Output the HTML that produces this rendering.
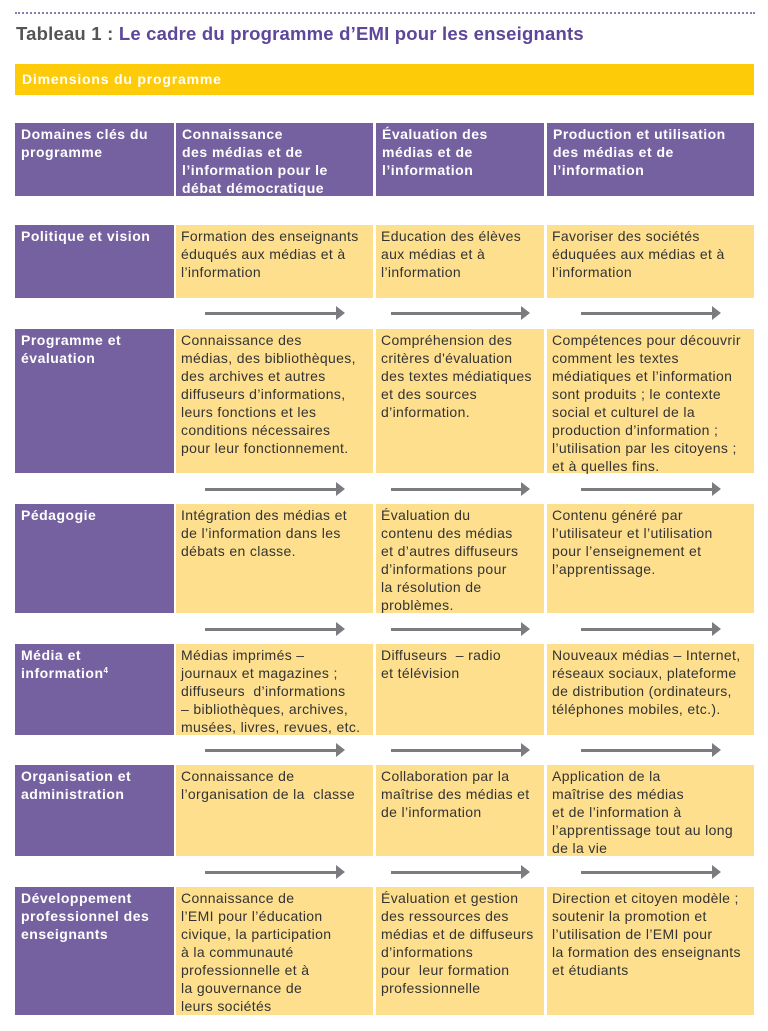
<!DOCTYPE html>
<html><head><meta charset="utf-8"><style>
body{margin:0;width:768px;height:1031px;background:#fff;position:relative;font-family:"Liberation Sans",sans-serif;overflow:hidden}
.c{position:absolute;box-sizing:border-box;padding:2px 4px 0 6px;font-size:14px;letter-spacing:0.35px;line-height:18px;color:#333;white-space:nowrap}
.p{background:#7661a0;color:#fff;font-weight:bold;letter-spacing:0.5px}
.y{background:#fddf8e;padding-left:5px}
.a{position:absolute;height:3px;background:#7b7b80}
.a:after{content:"";position:absolute;right:-8px;top:-6px;border-left:9px solid #7b7b80;border-top:7.5px solid transparent;border-bottom:7.5px solid transparent}
sup{font-size:8px;line-height:0;vertical-align:5px}
</style></head><body>
<div style="position:absolute;left:15px;right:13px;top:12px;border-top:2px dotted #8a7bb0"></div>
<div style="position:absolute;left:16px;top:23px;font-size:18.5px;letter-spacing:0.2px;font-weight:bold;color:#555">Tableau 1 : <span style="color:#5e469a">Le cadre du programme d’EMI pour les enseignants</span></div>
<div style="position:absolute;left:15px;top:64px;width:739px;height:31px;background:#fecb08;color:#fff;font-weight:bold;font-size:14px;letter-spacing:0.8px;line-height:31px;padding-left:7px;box-sizing:border-box">Dimensions du programme</div>

<div class="c p" style="left:15px;top:123px;width:159px;height:73px">Domaines clés du<br>programme</div>
<div class="c p" style="left:176px;top:123px;width:197px;height:73px">Connaissance<br>des médias et de<br>l’information pour le<br>débat démocratique</div>
<div class="c p" style="left:376px;top:123px;width:168px;height:73px">Évaluation des<br>médias et de<br>l’information</div>
<div class="c p" style="left:547px;top:123px;width:207px;height:73px">Production et utilisation<br>des médias et de<br>l’information</div>

<div class="c p" style="left:15px;top:225px;width:159px;height:73px">Politique et vision</div>
<div class="c y" style="left:176px;top:225px;width:197px;height:73px">Formation des enseignants<br>éduqués aux médias et à<br>l’information</div>
<div class="c y" style="left:376px;top:225px;width:168px;height:73px">Education des élèves<br>aux médias et à<br>l’information</div>
<div class="c y" style="left:547px;top:225px;width:207px;height:73px">Favoriser des sociétés<br>éduquées aux médias et à<br>l’information</div>

<div class="c p" style="left:15px;top:329px;width:159px;height:144px">Programme et<br>évaluation</div>
<div class="c y" style="left:176px;top:329px;width:197px;height:144px">Connaissance des<br>médias, des bibliothèques,<br>des archives et autres<br>diffuseurs d’informations,<br>leurs fonctions et les<br>conditions nécessaires<br>pour leur fonctionnement.</div>
<div class="c y" style="left:376px;top:329px;width:168px;height:144px">Compréhension des<br>critères d'évaluation<br>des textes médiatiques<br>et des sources<br>d’information.</div>
<div class="c y" style="left:547px;top:329px;width:207px;height:144px">Compétences pour découvrir<br>comment les textes<br>médiatiques et l’information<br>sont produits ; le contexte<br>social et culturel de la<br>production d’information ;<br>l’utilisation par les citoyens ;<br>et à quelles fins.</div>

<div class="c p" style="left:15px;top:504px;width:159px;height:109px">Pédagogie</div>
<div class="c y" style="left:176px;top:504px;width:197px;height:109px">Intégration des médias et<br>de l’information dans les<br>débats en classe.</div>
<div class="c y" style="left:376px;top:504px;width:168px;height:109px">Évaluation du<br>contenu des médias<br>et d’autres diffuseurs<br>d’informations pour<br>la résolution de<br>problèmes.</div>
<div class="c y" style="left:547px;top:504px;width:207px;height:109px">Contenu généré par<br>l’utilisateur et l’utilisation<br>pour l’enseignement et<br>l’apprentissage.</div>

<div class="c p" style="left:15px;top:644px;width:159px;height:91px">Média et<br>information<sup>4</sup></div>
<div class="c y" style="left:176px;top:644px;width:197px;height:91px">Médias imprimés –<br>journaux et magazines ;<br>diffuseurs &nbsp;d’informations<br>– bibliothèques, archives,<br>musées, livres, revues, etc.</div>
<div class="c y" style="left:376px;top:644px;width:168px;height:91px">Diffuseurs &nbsp;– radio<br>et télévision</div>
<div class="c y" style="left:547px;top:644px;width:207px;height:91px">Nouveaux médias – Internet,<br>réseaux sociaux, plateforme<br>de distribution (ordinateurs,<br>téléphones mobiles, etc.).</div>

<div class="c p" style="left:15px;top:765px;width:159px;height:91px">Organisation et<br>administration</div>
<div class="c y" style="left:176px;top:765px;width:197px;height:91px">Connaissance de<br>l’organisation de la &nbsp;classe</div>
<div class="c y" style="left:376px;top:765px;width:168px;height:91px">Collaboration par la<br>maîtrise des médias et<br>de l’information</div>
<div class="c y" style="left:547px;top:765px;width:207px;height:91px">Application de la<br>maîtrise des médias<br>et de l’information à<br>l’apprentissage tout au long<br>de la vie</div>

<div class="c p" style="left:15px;top:887px;width:159px;height:128px">Développement<br>professionnel des<br>enseignants</div>
<div class="c y" style="left:176px;top:887px;width:197px;height:128px">Connaissance de<br>l’EMI pour l’éducation<br>civique, la participation<br>à la communauté<br>professionnelle et à<br>la gouvernance de<br>leurs sociétés</div>
<div class="c y" style="left:376px;top:887px;width:168px;height:128px">Évaluation et gestion<br>des ressources des<br>médias et de diffuseurs<br>d’informations<br>pour &nbsp;leur formation<br>professionnelle</div>
<div class="c y" style="left:547px;top:887px;width:207px;height:128px">Direction et citoyen modèle ;<br>soutenir la promotion et<br>l’utilisation de l’EMI pour<br>la formation des enseignants<br>et étudiants</div>

<div class="a" style="left:205px;top:312px;width:132px"></div>
<div class="a" style="left:391px;top:312px;width:131px"></div>
<div class="a" style="left:581px;top:312px;width:132px"></div>
<div class="a" style="left:205px;top:488px;width:132px"></div>
<div class="a" style="left:391px;top:488px;width:131px"></div>
<div class="a" style="left:581px;top:488px;width:132px"></div>
<div class="a" style="left:205px;top:628px;width:132px"></div>
<div class="a" style="left:391px;top:628px;width:131px"></div>
<div class="a" style="left:581px;top:628px;width:132px"></div>
<div class="a" style="left:205px;top:749px;width:132px"></div>
<div class="a" style="left:391px;top:749px;width:131px"></div>
<div class="a" style="left:581px;top:749px;width:132px"></div>
<div class="a" style="left:205px;top:871px;width:132px"></div>
<div class="a" style="left:391px;top:871px;width:131px"></div>
<div class="a" style="left:581px;top:871px;width:132px"></div>
</body></html>
